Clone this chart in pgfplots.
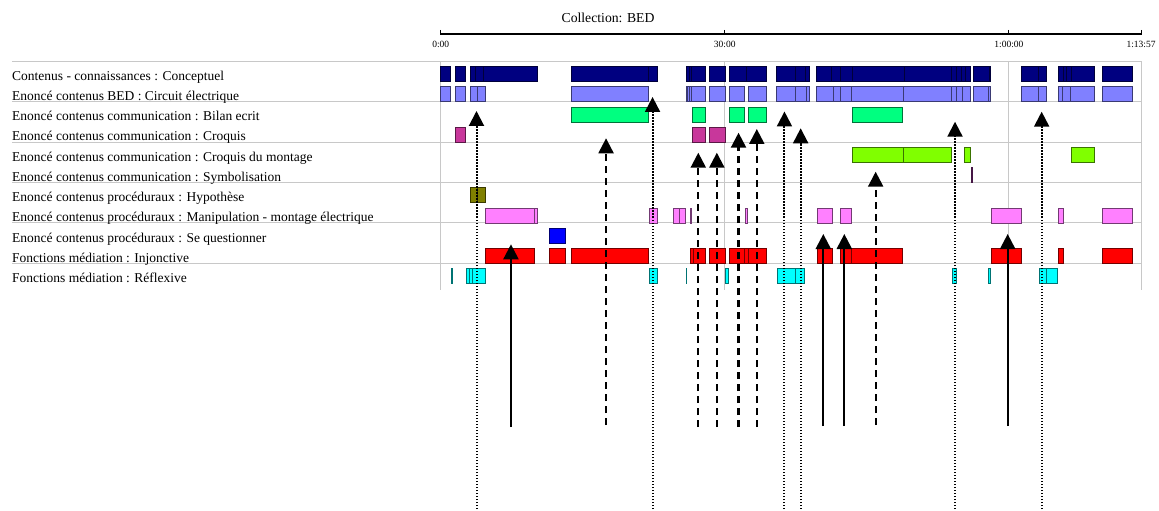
\documentclass[border=0pt]{standalone}
\usepackage{fontspec}
\setmainfont{Liberation Serif}
\usepackage{pgfplots}
\pgfplotsset{compat=1.18}
\usepackage{pgfplotstable}
\usetikzlibrary{arrows.meta}

% row colours
\definecolor{c1}{HTML}{000080}
\definecolor{c2}{HTML}{8080FF}
\definecolor{c3}{HTML}{00FF80}
\definecolor{c4}{HTML}{C8379B}
\definecolor{c5}{HTML}{80FF00}
\definecolor{c6}{HTML}{993399}
\definecolor{c7}{HTML}{808000}
\definecolor{c8}{HTML}{FF80FF}
\definecolor{c9}{HTML}{0000FF}
\definecolor{c10}{HTML}{FF0000}
\definecolor{c11}{HTML}{00FFFF}
\definecolor{gridgray}{HTML}{C8C8C8}

% one coded segment: s = start (min), e = end (min), r = row
\pgfplotstableread{
s e r
0.00 1.06 1
1.51 2.64 1
3.09 3.70 1
3.70 4.50 1
4.50 10.20 1
13.83 21.96 1
21.96 22.87 1
25.90 26.22 1
26.22 26.43 1
26.43 27.91 1
28.36 30.02 1
30.44 32.31 1
32.31 34.42 1
35.48 37.41 1
37.41 38.47 1
38.47 38.92 1
39.70 41.29 1
41.29 42.16 1
42.16 43.51 1
43.51 48.92 1
48.92 53.96 1
53.96 54.49 1
54.49 55.02 1
55.02 55.36 1
55.36 55.97 1
56.24 57.93 1
57.93 58.08 1
61.35 63.10 1
63.10 63.99 1
65.22 65.74 1
65.74 66.10 1
66.10 66.63 1
66.63 68.99 1
69.86 73.07 1
0.00 1.06 2
1.51 2.64 2
3.09 3.86 2
3.86 4.68 2
13.83 21.92 2
25.90 26.04 2
26.04 26.25 2
26.25 26.50 2
26.50 27.91 2
28.36 30.02 2
30.44 32.06 2
32.48 34.42 2
35.48 37.41 2
37.41 38.57 2
38.57 38.92 2
39.70 41.46 2
41.46 42.16 2
42.16 43.40 2
43.40 48.85 2
48.85 53.96 2
53.96 54.49 2
54.49 55.12 2
55.12 55.97 2
56.24 57.83 2
57.83 58.08 2
61.35 63.10 2
63.10 63.99 2
65.22 65.68 2
65.68 66.45 2
66.45 68.99 2
69.86 73.07 2
13.83 21.92 3
26.61 27.91 3
30.44 32.06 3
32.48 34.42 3
43.46 48.79 3
1.51 2.64 4
26.61 27.91 4
28.36 30.02 4
43.46 48.85 5
48.85 53.96 5
55.29 55.97 5
66.56 68.99 5
56.00 56.18 6
3.09 3.83 7
3.83 4.68 7
4.68 9.85 8
9.85 10.20 8
22.03 22.87 8
24.56 25.20 8
25.20 25.87 8
26.33 26.50 8
32.13 32.38 8
39.77 41.39 8
42.16 43.40 8
58.18 61.28 8
65.22 65.74 8
69.86 73.07 8
11.47 13.13 9
4.68 9.85 10
11.47 13.13 10
13.83 21.92 10
26.33 26.67 10
26.67 27.91 10
28.36 30.02 10
30.44 32.06 10
32.06 32.48 10
32.48 34.42 10
39.77 41.39 10
42.16 43.40 10
43.40 48.79 10
58.18 61.28 10
65.22 65.74 10
69.86 73.07 10
1.09 1.27 11
2.67 3.02 11
3.02 3.38 11
3.38 4.68 11
22.03 22.87 11
25.90 25.98 11
30.02 30.37 11
35.55 37.41 11
37.41 38.36 11
54.07 54.49 11
57.83 58.08 11
63.18 63.99 11
63.99 65.11 11
}\segments

% rectangle mark, width taken from the segment duration
\pgfdeclareplotmark{seg}{%
  \pgfpathrectangle{\pgfpoint{0pt}{-7.5pt}}{\pgfpoint{\segw pt}{15pt}}%
  \pgfusepathqfillstroke}

\tikzset{
  dotarrow/.style={black, line width=2pt, dash pattern=on 1.5pt off 1.5pt, -{Triangle[width=15pt,length=15pt]}},
  dasharrow/.style={black, line width=2.2pt, dash pattern=on 7pt off 5pt, -{Triangle[width=15pt,length=15pt]}},
  fullarrow/.style={black, line width=2.2pt, -{Triangle[width=15pt,length=15pt]}},
  lab/.style={anchor=base west, inner sep=0pt, font=\fontsize{13.5}{16}\selectfont},
  tlab/.style={anchor=base, inner sep=0pt, font=\fontsize{9.5}{11}\selectfont},
}

\begin{document}
\begin{tikzpicture}
\begin{axis}[
  name=ax, set layers,
  scale only axis, width=1159pt, height=510pt,
  xmin=-46.5364, xmax=75.8501,
  ymin=0, ymax=510, y dir=reverse,
  hide axis, clip=false,
]
\path[fill=white] (rel axis cs:0,0) rectangle (rel axis cs:1,1);

% grid of the timeline
\draw[gridgray, line width=1pt] (-45.27,61.3) -- (73.95,61.3);
\draw[gridgray, line width=1pt] (-45.27,101.7) -- (73.95,101.7);
\draw[gridgray, line width=1pt] (-45.27,142.1) -- (73.95,142.1);
\draw[gridgray, line width=1pt] (-45.27,182.5) -- (73.95,182.5);
\draw[gridgray, line width=1pt] (-45.27,222.9) -- (73.95,222.9);
\draw[gridgray, line width=1pt] (-45.27,263.3) -- (73.95,263.3);
\draw[gridgray, line width=1pt] (0,61.3) -- (0,290);
\draw[gridgray, line width=1pt] (30,61.3) -- (30,290);
\draw[gridgray, line width=1pt] (60,61.3) -- (60,290);
\draw[gridgray, line width=1pt] (73.95,61.3) -- (73.95,290);

% time axis on top
\draw[black, line width=2.2pt] (0,34.3) -- (73.95,34.3);
\draw[black, line width=1pt] (0,30) -- (0,35);
\draw[black, line width=1pt] (30,30) -- (30,35);
\draw[black, line width=1pt] (60,30) -- (60,35);
\draw[black, line width=1pt] (73.95,30) -- (73.95,35);
\node[tlab] at (0,47.7) {0:00};
\node[tlab] at (30,47.7) {30:00};
\node[tlab] at (60,47.7) {1:00:00};
\node[tlab] at (73.95,47.7) {1:13:57};
\node[anchor=base, inner sep=0pt, font=\fontsize{13.7}{16}\selectfont] at (17.67,22.5) {Collection: BED};

% row labels
\node[lab] at (-45.27,80.4) {Contenus - connaissances : Conceptuel};
\node[lab] at (-45.27,100.6) {Enoncé contenus BED : Circuit électrique};
\node[lab] at (-45.27,120.8) {Enoncé contenus communication : Bilan ecrit};
\node[lab] at (-45.27,141.0) {Enoncé contenus communication : Croquis};
\node[lab] at (-45.27,161.2) {Enoncé contenus communication : Croquis du montage};
\node[lab] at (-45.27,181.4) {Enoncé contenus communication : Symbolisation};
\node[lab] at (-45.27,201.6) {Enoncé contenus procéduraux : Hypothèse};
\node[lab] at (-45.27,221.8) {Enoncé contenus procéduraux : Manipulation - montage électrique};
\node[lab] at (-45.27,242.0) {Enoncé contenus procéduraux : Se questionner};
\node[lab] at (-45.27,262.2) {Fonctions médiation : Injonctive};
\node[lab] at (-45.27,282.4) {Fonctions médiation : Réflexive};

% coded segments
\addplot[
  scatter, only marks, mark=seg,
  point meta=\thisrow{r},
  visualization depends on={9.47*(\thisrow{e}-\thisrow{s}) \as \segw},
  visualization depends on={\thisrow{r} \as \segr},
  scatter/@pre marker code/.code={%
    \pgfmathtruncatemacro\segk{\segr}%
    \scope[fill=c\segk, draw=c\segk!45!black, line width=0.9pt]},
  scatter/@post marker code/.code={\endscope},
] table[x=s, y expr={54+20.2*\thisrow{r}}] {\segments};

% annotation arrows, above the segments
\addplot[dotarrow, on layer=axis foreground] coordinates {(3.78,509) (3.78,111)};
\addplot[dotarrow, on layer=axis foreground] coordinates {(22.37,509) (22.37,97)};
\addplot[dotarrow, on layer=axis foreground] coordinates {(36.30,509) (36.30,111.5)};
\addplot[dotarrow, on layer=axis foreground] coordinates {(38.01,509) (38.01,128.3)};
\addplot[dotarrow, on layer=axis foreground] coordinates {(54.31,509) (54.31,121.7)};
\addplot[dotarrow, on layer=axis foreground] coordinates {(63.46,509) (63.46,111.7)};
\addplot[dasharrow, on layer=axis foreground] coordinates {(17.46,425) (17.46,138.3)};
\addplot[dasharrow, on layer=axis foreground] coordinates {(27.20,427) (27.20,152.7)};
\addplot[dasharrow, on layer=axis foreground] coordinates {(29.16,427) (29.16,152.7)};
\addplot[dasharrow, on layer=axis foreground] coordinates {(31.45,427) (31.45,132.7)};
\addplot[dasharrow, on layer=axis foreground] coordinates {(33.38,427) (33.38,129)};
\addplot[dasharrow, on layer=axis foreground] coordinates {(45.93,425) (45.93,171.7)};
\addplot[fullarrow, on layer=axis foreground] coordinates {(7.42,427) (7.42,244.3)};
\addplot[fullarrow, on layer=axis foreground] coordinates {(40.40,426) (40.40,234)};
\addplot[fullarrow, on layer=axis foreground] coordinates {(42.62,426) (42.62,234)};
\addplot[fullarrow, on layer=axis foreground] coordinates {(59.87,426) (59.87,234)};

\coordinate (bl) at (rel axis cs:0,1);
\coordinate (tr) at (rel axis cs:1,0);
\end{axis}
\pgfresetboundingbox
\useasboundingbox (bl) rectangle (tr);
\end{tikzpicture}
\end{document}
